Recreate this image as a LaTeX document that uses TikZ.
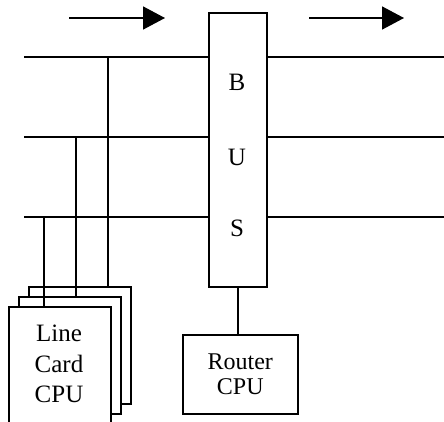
\documentclass[tikz,border=0pt]{standalone}
\usepackage{fontspec}
\setmainfont{Liberation Serif}
\usetikzlibrary{arrows.meta}
\begin{document}
\begin{tikzpicture}[x=1pt,y=-1pt,
  ln/.style={line width=1.6pt},
  box/.style={draw,line width=1.6pt,fill=white,inner sep=0pt,anchor=north west},
  txt/.style={font=\fontsize{25}{30.5}\selectfont,align=center,inner sep=0pt},
  flow/.style={line width=1.6pt,-{Triangle[length=22pt,width=23pt]}}]
\useasboundingbox (0,0) rectangle (444,421);
\clip (0,0) rectangle (444,421);
% arrows
\coordinate (a1s) at (69,18); \coordinate (a1e) at (165,18);
\coordinate (a2s) at (309,18); \coordinate (a2e) at (404,18);
\draw[flow] (a1s) -- (a1e);
\draw[flow] (a2s) -- (a2e);
% bus
\node[box,minimum width=58pt,minimum height=274pt] (bus) at (208,12) {};
\node[txt] (B) at (237,82) {B};
\node[txt] (U) at (237,157) {U};
\node[txt] (S) at (237,228) {S};
% lines
\coordinate (l1) at (24,57); \coordinate (l2) at (24,137); \coordinate (l3) at (24,217);
\coordinate (r1) at (444,57); \coordinate (r2) at (444,137); \coordinate (r3) at (444,217);
\draw[ln] (l1) -- (l1 -| bus.west);
\draw[ln] (l2) -- (l2 -| bus.west);
\draw[ln] (l3) -- (l3 -| bus.west);
\draw[ln] (r1 -| bus.east) -- (r1);
\draw[ln] (r2 -| bus.east) -- (r2);
\draw[ln] (r3 -| bus.east) -- (r3);
% cards
\node[box,minimum width=102pt,minimum height=117pt] (c3) at (28,286) {};
\node[box,minimum width=102pt,minimum height=117pt] (c2) at (18,296) {};
\node[box,minimum width=102pt,minimum height=125pt] (c1) at (8,306) {};
\node[txt] (lc) at (59,364) {Line\\Card\\CPU};
\coordinate (t1) at (108,57); \coordinate (t2) at (76,137); \coordinate (t3) at (44,217);
\draw[ln] (t1) -- (t1 |- c3.north);
\draw[ln] (t2) -- (t2 |- c2.north);
\draw[ln] (t3) -- (t3 |- c1.north);
% router
\node[box,minimum width=115pt,minimum height=79pt] (rc) at (182,334) {};
\node[txt,font=\fontsize{24}{25}\selectfont] (rt) at (rc.center) {Router\\CPU};
\draw[ln] (bus.south -| 238,0) -- (rc.north -| 238,0);
\end{tikzpicture}
\end{document}
